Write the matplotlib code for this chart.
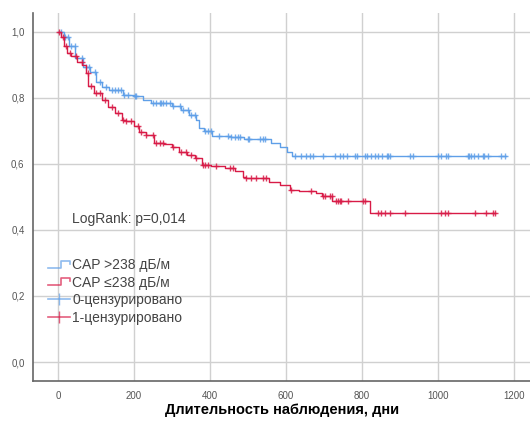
# Kaplan-Meier curves, CAP groups
import matplotlib.pyplot as plt
import numpy as np
from matplotlib.lines import Line2D
from matplotlib.legend_handler import HandlerBase

plt.rcParams["font.family"] = ["Liberation Sans", "DejaVu Sans"]

# CAP >238 dB/m : event times and survival after each step
blue_t = [0, 15, 30, 45, 65, 85, 100, 115, 135, 170, 200, 225, 245, 280, 300, 325,
          345, 362, 372, 385, 405, 455, 490, 560, 585, 602, 616]
blue_s = [1.0, 0.985, 0.955, 0.92, 0.894, 0.879, 0.849, 0.832, 0.822, 0.808, 0.805,
          0.793, 0.785, 0.783, 0.775, 0.763, 0.748, 0.733, 0.708, 0.70, 0.685, 0.682,
          0.675, 0.662, 0.652, 0.637, 0.625]
blue_end = 1178
blue_cens = [9, 18, 26, 35, 44, 62, 75, 83, 97, 110, 127, 141, 149, 158, 167, 175, 184,
             206, 202, 250, 259, 268, 272, 276, 285, 294, 303, 320, 329, 342, 351, 360,
             386, 395, 404, 425, 447, 456, 465, 473, 478, 500, 504, 531, 540, 544,
             623, 640, 654, 662, 671, 697, 728, 742, 750, 761, 781, 786, 808, 812, 825,
             834, 843, 852, 865, 869, 874, 926, 935, 1000, 1009, 1022, 1026, 1079, 1083,
             1088, 1096, 1105, 1118, 1122, 1131, 1167, 1176]

# CAP <=238 dB/m
red_t = [0, 7, 16, 24, 35, 50, 63, 73, 80, 96, 115, 132, 150, 168, 178, 200, 213, 232,
         252, 280, 300, 318, 340, 360, 378, 403, 440, 466, 488, 495, 555, 585, 610, 634,
         680, 695, 722, 822]
red_s = [1.0, 0.985, 0.955, 0.935, 0.925, 0.909, 0.899, 0.874, 0.834, 0.814, 0.793,
         0.773, 0.753, 0.733, 0.728, 0.713, 0.697, 0.688, 0.662, 0.659, 0.652, 0.637,
         0.627, 0.617, 0.597, 0.592, 0.587, 0.577, 0.561, 0.557, 0.546, 0.536, 0.521,
         0.519, 0.511, 0.501, 0.486, 0.452]
red_end = 1149
red_cens = [4, 13, 22, 31, 48, 62, 79, 88, 101, 110, 123, 141, 158, 171, 180, 193, 211,
            219, 233, 250, 259, 268, 276, 303, 325, 338, 351, 364, 382, 386, 395, 417,
            452, 461, 496, 509, 522, 539, 548, 614, 667, 697, 702, 715, 720, 733, 737,
            741, 746, 763, 803, 807, 842, 851, 860, 873, 912, 1009, 1018, 1026, 1097,
            1127, 1145, 1149]

labels = ["CAP >238 дБ/м", "CAP \u2264238 дБ/м", "0-цензурировано", "1-цензурировано"]

blue_col = "#5f9fe8"
red_col = "#d81b47"


def km_at(times, surv, x):
    idx = np.searchsorted(times, x, side="right") - 1
    return np.asarray(surv)[idx]


class StepHandler(HandlerBase):
    def create_artists(self, legend, orig_handle, xdescent, ydescent, width, height,
                       fontsize, trans):
        xs = np.array([0, 0.6, 0.6, 1.0, 1.0]) * width - xdescent
        ys = np.array([0.15, 0.15, 0.85, 0.85, 0.55]) * height - ydescent
        ln = Line2D(xs, ys, color=orig_handle.get_color(), lw=1.2, alpha=0.7,
                    transform=trans)
        return [ln]


fig = plt.figure(figsize=(5.3, 4.26), dpi=100)
ax = fig.add_axes([0.062, 0.106, 0.94, 0.864])

for t, s, end, cens, col in [(blue_t, blue_s, blue_end, blue_cens, blue_col),
                             (red_t, red_s, red_end, red_cens, red_col)]:
    ax.step(list(t) + [end], list(s) + [s[-1]], where="post", color=col, lw=1.0)
    c = np.array(sorted(cens))
    ax.plot(c, km_at(t, s, c), "+", color=col, ms=5, mew=1.0, alpha=0.85)

ax.set_xlim(-66, 1245)
ax.set_ylim(-0.057, 1.057)
ax.set_xticks([0, 200, 400, 600, 800, 1000, 1200])
ax.set_yticks([0.0, 0.2, 0.4, 0.6, 0.8, 1.0])
ax.set_yticklabels([f"{v:.1f}".replace(".", ",") for v in [0.0, 0.2, 0.4, 0.6, 0.8, 1.0]])
ax.tick_params(length=0, labelsize=7, labelcolor="#555555")
ax.tick_params(axis="x", pad=7)
ax.tick_params(axis="y", pad=6)
ax.grid(True, color="#d0d0d0", lw=1)
ax.set_axisbelow(True)
for sp in ["top", "right"]:
    ax.spines[sp].set_visible(False)
for sp in ["left", "bottom"]:
    ax.spines[sp].set_color("#666666")
    ax.spines[sp].set_linewidth(1.2)

ax.set_xlabel("Длительность наблюдения, дни", fontsize=10.5, fontweight="bold",
              labelpad=2)
ax.text(36, 0.433, "LogRank: p=0,014", fontsize=10, color="#444444", va="center")

h_blue = Line2D([], [], color=blue_col)
h_red = Line2D([], [], color=red_col)
h_c0 = Line2D([], [], color=blue_col, marker="|", ms=9, lw=1.2, alpha=0.7)
h_c1 = Line2D([], [], color=red_col, marker="|", ms=9, lw=1.2, alpha=0.7)
ax.legend([h_blue, h_red, h_c0, h_c1], labels,
          handler_map={h_blue: StepHandler(), h_red: StepHandler()},
          loc="upper left", bbox_to_anchor=(0.03, 0.333), frameon=False,
          borderpad=0, borderaxespad=0,
          fontsize=10, handlelength=1.6, handletextpad=0.15, labelspacing=0.25,
          numpoints=1, labelcolor="#444444")

fig.savefig("out.png", dpi=100)
